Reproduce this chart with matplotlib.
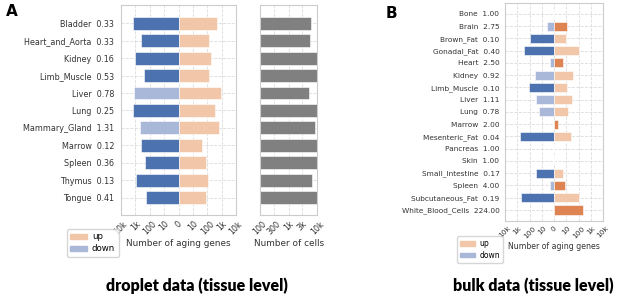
import numpy as np
import matplotlib
matplotlib.use('Agg')
import matplotlib.pyplot as plt
from matplotlib.patches import Patch

# droplet data (tissue level)
tissues_a = ['Bladder', 'Heart_and_Aorta', 'Kidney', 'Limb_Muscle', 'Liver', 'Lung',
             'Mammary_Gland', 'Marrow', 'Spleen', 'Thymus', 'Tongue']
down_a = [1450, 420, 1050, 240, 1250, 1450, 470, 380, 210, 900, 190]
up_a = [478, 138, 168, 127, 975, 362, 616, 45, 75, 116, 78]
cells_a = [6000, 5600, 12000, 12000, 4900, 12000, 8100, 12000, 12000, 6200, 12000]

# bulk data (tissue level)
tissues_b = ['Bone', 'Brain', 'Brown_Fat', 'Gonadal_Fat', 'Heart', 'Kidney', 'Limb_Muscle',
             'Liver', 'Lung', 'Marrow', 'Mesenteric_Fat', 'Pancreas', 'Skin',
             'Small_Intestine', 'Spleen', 'Subcutaneous_Fat', 'White_Blood_Cells']
down_b = [0, 3, 99, 269, 1, 36, 109, 26, 17, 0, 649, 0, 0, 29, 1, 536, 0]
up_b = [0, 10, 9, 107, 4, 33, 10, 29, 13, 1, 25, 0, 0, 4, 7, 101, 223]

gene_ticks = [-4, -3, -2, -1, 0, 1, 2, 3, 4]
gene_labels = ['10k', '1k', '100', '10', '0', '10', '100', '1k', '10k']
cell_ticks = [100, 300, 1000, 3000, 10000]
cell_labels = ['100', '300', '1k', '3k', '10k']

DARK_BLUE = '#4c72b0'
LIGHT_BLUE = '#a9b7d9'
DARK_ORANGE = '#dd8452'
LIGHT_ORANGE = '#f2c6a8'
GRID = '#dcdcdc'
TXT = '#333333'

plt.rcParams['font.family'] = 'DejaVu Sans'


def style(ax, fs, ypad):
    for s in ax.spines.values():
        s.set_color('#cccccc')
        s.set_linewidth(0.8)
    ax.grid(True, color=GRID, linestyle='--', linewidth=0.6)
    ax.set_axisbelow(True)
    ax.tick_params(length=0, colors=TXT, labelsize=fs)
    ax.tick_params(axis='y', pad=ypad)
    ax.tick_params(axis='x', pad=3)


def gene_panel(ax, tissues, down, up, fs, lfs, ypad):
    down = np.array(down, dtype=float)
    up = np.array(up, dtype=float)
    ratio = (up + 1) / (down + 1)
    y = np.arange(len(tissues))
    dcol = [DARK_BLUE if r < 0.67 else LIGHT_BLUE for r in ratio]
    ucol = [DARK_ORANGE if r > 1.5 else LIGHT_ORANGE for r in ratio]
    ax.barh(y, -np.log10(down + 1), height=0.74, color=dcol, edgecolor='white', linewidth=0.4)
    ax.barh(y, np.log10(up + 1), height=0.74, color=ucol, edgecolor='white', linewidth=0.4)
    ax.set_yticks(y)
    ax.set_yticklabels([f'{t}  {r:.2f}' for t, r in zip(tissues, ratio)])
    ax.set_xlim(-4, 4)
    ax.set_xticks(gene_ticks)
    ax.set_xticklabels(gene_labels, rotation=45, ha='center')
    ax.set_xlabel('Number of aging genes', color=TXT, fontsize=lfs, labelpad=2)
    style(ax, fs, ypad)


def add_legend(x, y, fs):
    handles = [Patch(color=LIGHT_ORANGE, label='up'), Patch(color=LIGHT_BLUE, label='down')]
    fig.legend(handles=handles, loc='upper left', bbox_to_anchor=(x / 617, 1 - y / 298),
               fontsize=fs, frameon=True, edgecolor='#cccccc', handlelength=1.9,
               handleheight=0.6, borderpad=0.4, labelspacing=0.35, handletextpad=0.6,
               borderaxespad=0)


fig = plt.figure(figsize=(6.17, 2.98), dpi=100)

# panel A
ax1 = fig.add_axes([121 / 617, 1 - 215 / 298, 115 / 617, 210 / 298])
gene_panel(ax1, tissues_a, down_a, up_a, 5.8, 6.4, 5)
ax1.set_ylim(len(tissues_a) - 1 + 1.0, -1.05)

ax2 = fig.add_axes([260 / 617, 1 - 215 / 298, 57.5 / 617, 210 / 298])
ax2.barh(np.arange(len(tissues_a)), cells_a, height=0.74, color='#808080',
         edgecolor='white', linewidth=0.4)
ax2.set_xscale('log')
ax2.set_xlim(100, 10000)
ax2.set_xticks(cell_ticks)
ax2.set_xticklabels(cell_labels, rotation=45, ha='center')
ax2.minorticks_off()
ax2.set_yticks(np.arange(len(tissues_a)))
ax2.set_yticklabels([])
ax2.set_ylim(len(tissues_a) - 1 + 1.0, -1.05)
ax2.set_xlabel('Number of cells', color=TXT, fontsize=6.4, labelpad=2)
style(ax2, 5.8, 5)

add_legend(67, 229, 6.2)

# panel B
ax3 = fig.add_axes([505 / 617, 1 - 221 / 298, 98 / 617, 218.5 / 298])
gene_panel(ax3, tissues_b, down_b, up_b, 5.3, 5.6, 4)
ax3.set_ylim(len(tissues_b) - 1 + 0.9, -0.92)

add_legend(457, 236, 5.5)

fig.text(6 / 617, 1 - 12 / 298, 'A', fontsize=11, fontweight='bold', va='center')
fig.text(386 / 617, 1 - 14 / 298, 'B', fontsize=11, fontweight='bold', va='center')

fig.text(197 / 617, 1 - 286 / 298, 'droplet data (tissue level)', fontsize=11.5,
         family='Lato', fontweight='heavy', ha='center', va='center')
fig.text(533 / 617, 1 - 286 / 298, 'bulk data (tissue level)', fontsize=11.5,
         family='Lato', fontweight='heavy', ha='center', va='center')

fig.savefig('out.png', dpi=100)
